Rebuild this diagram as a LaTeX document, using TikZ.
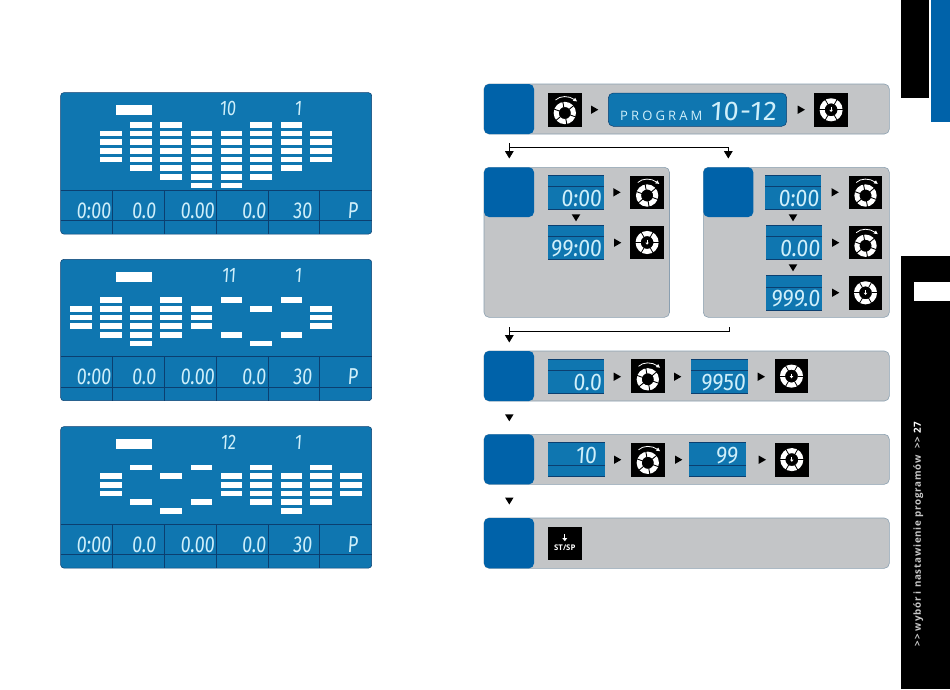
\documentclass[tikz,border=0pt]{standalone}
\usepackage{fontspec}
\usetikzlibrary{arrows.meta}
\setmainfont{Open Sans}
\newfontfamily\lcdf[FakeSlant=0.07,FakeStretch=0.78]{Fira Sans}
\newfontfamily\lcdg[FakeSlant=0.07,FakeStretch=0.88]{Fira Sans}
\newfontfamily\lcdh[FakeSlant=0.07,FakeStretch=1.0,LetterSpace=5]{Fira Sans}
\newfontfamily\progf[LetterSpace=24]{Open Sans}
\newfontfamily\sidef[LetterSpace=7.5]{Open Sans}
\definecolor{lcdblue}{HTML}{0F76B0}
\definecolor{lcdline}{HTML}{0B3F70}
\definecolor{lcdtext}{HTML}{CFEFFA}
\definecolor{tabblue}{HTML}{0062A9}
\definecolor{boxgrey}{HTML}{C3C5C7}
\definecolor{boxedge}{HTML}{8A9FB0}
\tikzset{
  x=1pt,y=-1pt,
  panelbg/.style={fill=lcdblue,draw=lcdline,line width=.5pt,rounded corners=3pt},
  lcdrule/.style={draw=lcdline,line width=.8pt},
  bigdigit/.style={inner sep=0pt,text=lcdtext,anchor=base east,font=\lcdg\fontsize{24}{24}\selectfont},
  smalldigit/.style={inner sep=0pt,text=lcdtext,anchor=base east,font=\lcdf\fontsize{23}{23}\selectfont},
  flow/.style={draw=black,line width=.8pt},
  flowtip/.style={-{Triangle[length=7.5pt,width=8.7pt]}},
  stepbg/.style={fill=boxgrey,draw=boxedge,line width=.6pt,rounded corners=5pt},
  steptab/.style={fill=tabblue,rounded corners=5pt},
}
\newcommand{\barcol}[3]{\foreach \r in {#3}{\fill[white] (#1,{124.7+8.67*\r-2.85+#2}) rectangle ++(21.7,5.7);}}
\newcommand{\lcdpanel}[4]{% dy, prefix, program
  \path[panelbg] (60.7,{92.7+#1}) rectangle (371.7,{234+#1});
  \draw[lcdrule] (60.7,{190+#1}) -- (371.7,{190+#1});
  \draw[lcdrule] (60.7,{220.3+#1}) -- (371.7,{220.3+#1});
  \foreach \vx in {112.3,164.7,216.7,268.3,319.7}{\draw[lcdrule] (\vx,{190+#1}) -- (\vx,{234+#1});}
  \fill[white] (116,{105.3+#1}) rectangle (152,{115.3+#1});
  \node[smalldigit,font=\lcdf\fontsize{21}{21}\selectfont] (#2prog) at (236,{115.5+#1}) {#3};
  \node[smalldigit,font=\lcdf\fontsize{21}{21}\selectfont] (#2lvl) at (302,{115.5+#1}) {1};
  \node[smalldigit] (#2a) at (111,{218+#1}) {0:00};
  \node[smalldigit] (#2b) at (156,{218+#1}) {0.0};
  \node[smalldigit] (#2c) at (214.5,{218+#1}) {0.00};
  \node[smalldigit] (#2d) at (266,{218+#1}) {0.0};
  \node[smalldigit] (#2e) at (312,{218+#1}) {30};
  \node[smalldigit] (#2f) at (358,{218+#1}) {P};
  #4
}
\newcommand{\triR}[2]{\fill[black] (#1,{#2-4.2}) -- ++(7.3,4.2) -- ++(-7.3,4.2) -- cycle;}
\newcommand{\triD}[2]{\fill[black] ({#1-4.3},#2) -- ++(8.6,0) -- ++(-4.3,7) -- cycle;}
\newcommand{\knob}[2]{% left, top
  \fill[black] (#1,#2) rectangle ++(33.7,33.7);
  \draw[white,line width=5pt] ({#1+16.8},{#2+20}) circle (8.6);
  \foreach \ga in {20,80,140,200,260,320}{
    \draw[black,line width=.9pt] ({#1+16.8+5.6*cos(\ga)},{#2+20+5.6*sin(\ga)}) -- ({#1+16.8+11.8*cos(\ga)},{#2+20+11.8*sin(\ga)});}
  \draw[white,line width=.8pt] ({#1+7.5},{#2+7}) .. controls ({#1+12},{#2+2.5}) and ({#1+21},{#2+2.5}) .. ({#1+26.5},{#2+6.6});
  \fill[white] ({#1+29},{#2+8.4}) -- ++(-4.2,-.6) -- ++(2.4,-3) -- cycle;
}
\newcommand{\pick}[2]{% left, top
  \fill[black] (#1,#2) rectangle ++(33.7,33.7);
  \draw[white,line width=5pt] ({#1+16.8},{#2+16.8}) circle (9);
  \foreach \ga in {0,60,120,180,240,300}{
    \draw[black,line width=.8pt] ({#1+16.8+6*cos(\ga)},{#2+16.8+6*sin(\ga)}) -- ({#1+16.8+12.2*cos(\ga)},{#2+16.8+12.2*sin(\ga)});}
  \draw[white,line width=.7pt] ({#1+16.8},{#2+14.2}) -- ({#1+16.8},{#2+17.6});
  \fill[white] ({#1+15},{#2+16.8}) -- ++(3.6,0) -- ++(-1.8,2.2) -- cycle;
}
% display: name,left,top,w,h,liney,text,textright,baseline
\newcommand{\disp}[9]{
  \fill[lcdblue] (#2,#3) rectangle ++(#4,#5);
  \draw[lcdline,line width=.9pt] (#2,#3) -- ++(#4,0);
  \draw[lcdline,line width=.9pt] (#2,{#3+#5}) -- ++(#4,0);
  \draw[lcdline,line width=.7pt] (#2,#6) -- ++(#4,0);
  \node[bigdigit] (#1) at (#8,#9) {#7};
}
\begin{document}
\begin{tikzpicture}
\useasboundingbox (0,0) rectangle (950,689);
\fill[white] (0,0) rectangle (950,689);
% LCD panels
\lcdpanel{0}{pa}{10}{
 \barcol{100.3}{0}{1,2,3,4}\barcol{130.3}{0}{0,...,5}\barcol{160.4}{0}{0,...,6}\barcol{190.5}{0}{1,...,7}
 \barcol{220.6}{0}{1,...,7}\barcol{250.4}{0}{0,...,6}\barcol{280.6}{0}{0,...,5}\barcol{310.4}{0}{1,2,3,4}}
\lcdpanel{166.7}{pb}{11}{
 \barcol{70.3}{166.7}{2,3,4}\barcol{100.3}{166.7}{1,...,5}\barcol{130.3}{166.7}{2,...,6}\barcol{160.4}{166.7}{1,...,5}
 \barcol{190.5}{166.7}{2,3,4}\barcol{220.6}{166.7}{1,5}\barcol{250.4}{166.7}{2,6}\barcol{280.6}{166.7}{1,5}\barcol{310.4}{166.7}{2,3,4}}
\lcdpanel{334}{pc}{12}{
 \barcol{100.3}{334}{2,3,4}\barcol{130.3}{334}{1,5}\barcol{160.4}{334}{2,6}\barcol{190.5}{334}{1,5}
 \barcol{220.6}{334}{2,3,4}\barcol{250.4}{334}{1,...,5}\barcol{280.6}{334}{2,...,6}\barcol{310.4}{334}{1,...,5}\barcol{340.4}{334}{2,3,4}}
% step boxes
\path[stepbg] (484,84) rectangle (889.3,134);
\path[steptab] (484,84) rectangle (534,134);
\path[stepbg] (484,167.3) rectangle (669.5,317.3);
\path[steptab] (484,167.3) rectangle (534,217);
\path[stepbg] (703.3,167.3) rectangle (889.3,317.3);
\path[steptab] (703.3,167.3) rectangle (753.3,217);
\path[stepbg] (484,351) rectangle (889.3,401);
\path[steptab] (484,351) rectangle (534,401);
\path[stepbg] (484,434.3) rectangle (889.3,484.3);
\path[steptab] (484,434.3) rectangle (534,484.3);
\path[stepbg] (484,518) rectangle (889.3,568.3);
\path[steptab] (484,518) rectangle (534,568.3);
% row 1
\knob{548}{93}
\triR{591}{109.7}
\fill[lcdblue,draw=lcdline,line width=.5pt,rounded corners=5pt] (608.3,93) rectangle (786.7,126.3);
\node[inner sep=0pt,anchor=base west,text=lcdtext,font=\progf\fontsize{13}{13}\selectfont] (progword) at (620,120) {PROGRAM};
\node[inner sep=0pt,text=lcdtext,anchor=base east,font=\lcdh\fontsize{27}{27}\selectfont] (progrange) at (776.5,120) {10-12};
\triR{797.7}{109.7}
\pick{814.3}{93}
% connectors
\coordinate (ja) at (509.3,143.3);
\coordinate (jb) at (509.3,147.3);
\coordinate (jc) at (728.3,147.3);
\coordinate (jd) at (509.3,158.5);
\coordinate (je) at (728.3,158.5);
\draw[flow] (ja) -- (jb) -- (jc);
\draw[flow,flowtip] (jb) -- (jd);
\draw[flow,flowtip] (jc) -- (je);
\coordinate (ka) at (729,327.3);
\coordinate (kb) at (729,331.7);
\coordinate (kc) at (509.3,331.7);
\coordinate (kd) at (509.3,327.3);
\coordinate (ke) at (509.3,342.5);
\draw[flow] (ka) -- (kb) -- (kc);
\draw[flow,flowtip] (kd) -- (ke);
\triD{509.3}{414.3}
\triD{509.3}{497.5}
% box 2a
\disp{aa}{548}{175.3}{56}{34}{186.7}{0:00}{601.7}{206}
\triR{613.3}{192.3}
\knob{630.3}{175.5}
\triD{576}{214.3}
\disp{ab}{548}{225.3}{56}{34.4}{236.7}{99:00}{601.7}{256.4}
\triR{614}{242.7}
\pick{630.3}{225.7}
% box 2b
\disp{ba}{765}{175.3}{56.3}{34}{186.7}{0:00}{819}{206}
\triR{831.5}{192.3}
\knob{848.7}{175.5}
\triD{793}{214.3}
\disp{bb}{766.3}{225.3}{56}{34.4}{236.7}{0.00}{820}{256.4}
\triR{832}{242.7}
\knob{848.7}{225.7}
\triD{793}{264.3}
\disp{bc}{766.3}{275.7}{56}{34.3}{287}{999.0}{820}{306.8}
\triR{832}{292.7}
\pick{848.7}{276}
% row 3
\disp{ca}{548}{359.3}{56}{34.4}{370.3}{0.0}{601.5}{390.3}
\triR{613.7}{376.7}
\knob{631}{359.3}
\triR{674}{376.7}
\disp{cb}{691.3}{359.3}{56.4}{34.4}{370.3}{9950}{745.5}{390.3}
\triR{757.7}{376.7}
\pick{774.7}{359.3}
% row 4
\disp{da}{548}{442.3}{56.7}{34.4}{465}{10}{596.7}{463.3}
\triR{614}{459.7}
\knob{631}{442.8}
\triR{675}{459.7}
\disp{db}{689.3}{442.3}{56.7}{34.4}{465}{99}{738}{463.3}
\triR{758.7}{459.7}
\pick{775}{442.8}
% row 5
\fill[black] (548,526.7) rectangle ++(33.7,33.7);
\draw[white,line width=.9pt] (564.8,534) -- (564.8,539);
\fill[white] (562.3,538) -- ++(5,0) -- ++(-2.5,3.2) -- cycle;
\node[inner sep=0pt,text=white,font=\bfseries\fontsize{7.8}{8}\selectfont] (stsp) at (564.8,548) {ST/SP};
% side bar
\fill[black] (901,0) rectangle (929,98);
\fill[tabblue] (931,0) rectangle (950,122);
\fill[black] (901,256) rectangle (950,689);
\fill[white] (914,282.3) rectangle (950,301);
\node[inner sep=0pt,rotate=90,text=white!78!black,font=\sidef\bfseries\fontsize{9.8}{10}\selectfont] (sidetext) at (918.3,534) {>> wybór i nastawienie programów~ >> \textcolor{white}{27}};
\end{tikzpicture}
\end{document}
